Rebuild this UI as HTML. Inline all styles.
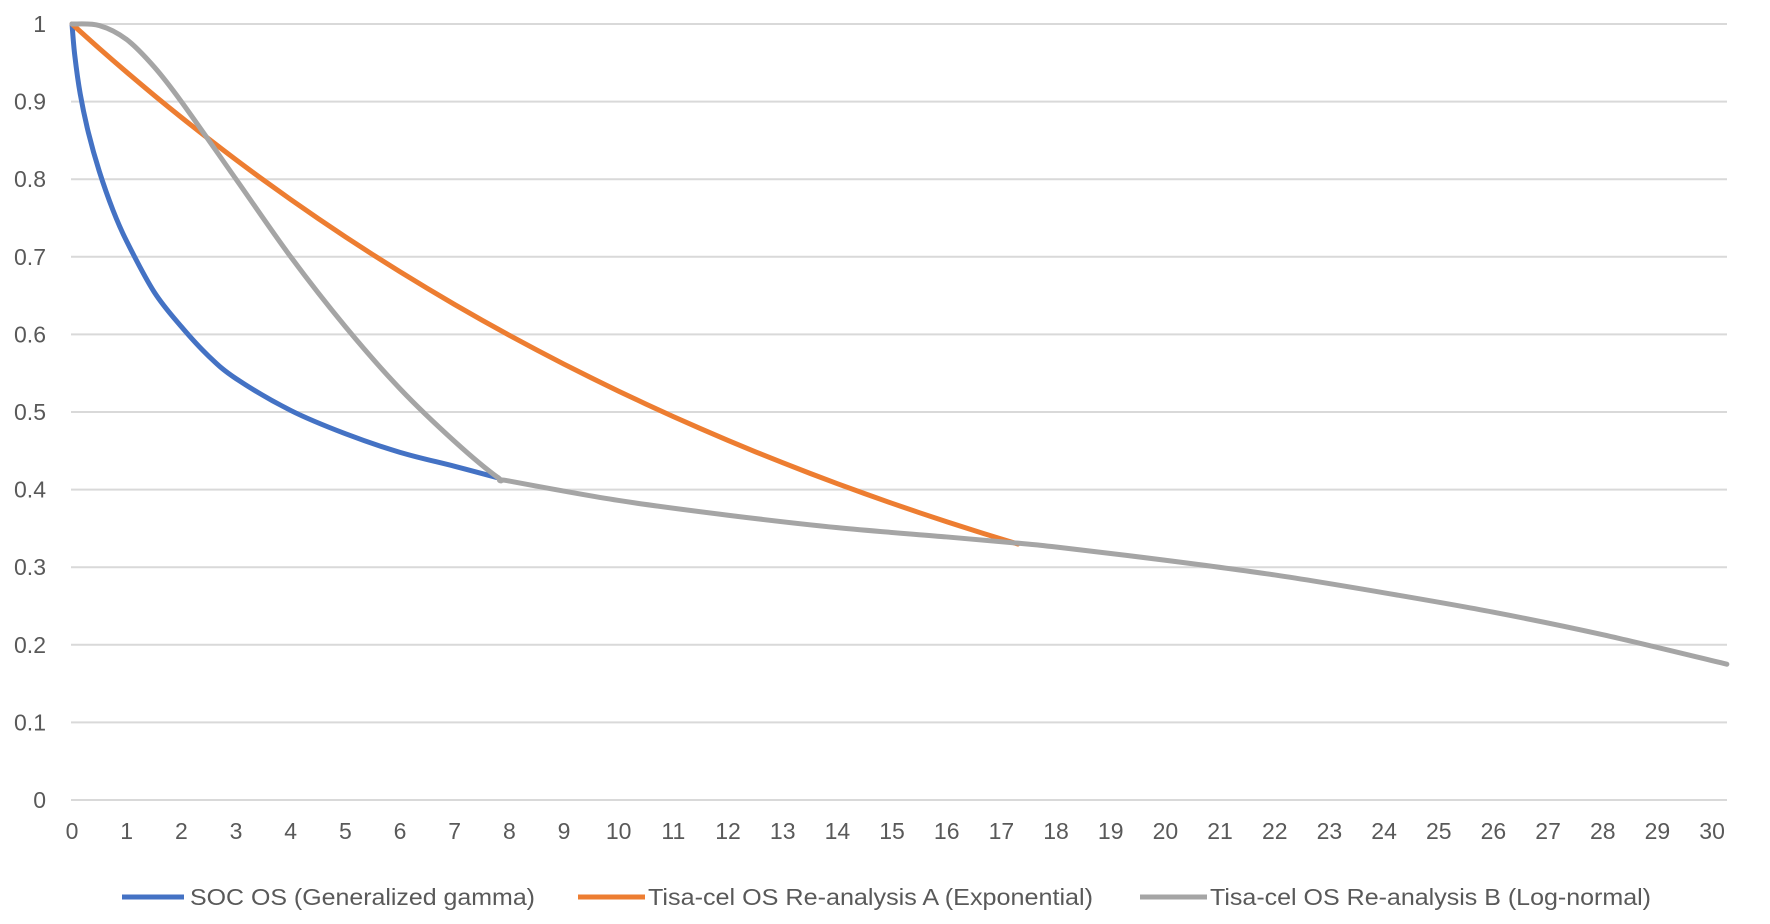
<!DOCTYPE html>
<html><head><meta charset="utf-8"><style>
html,body{margin:0;padding:0;background:#fff;}
svg{display:block;}
text{font-family:"Liberation Sans",sans-serif;fill:#595959;}
</style></head><body>
<svg id="s" width="1770" height="924" viewBox="0 0 1770 924" xmlns="http://www.w3.org/2000/svg">
<g id="grid" stroke="#d9d9d9" stroke-width="2"></g>
<g id="ylab" font-size="23" text-anchor="end"></g>
<g id="xlab" font-size="23" text-anchor="middle"></g>
<g id="series" fill="none" stroke-width="4.5" stroke-linejoin="round" stroke-linecap="round"></g>
<g font-size="23">
<line x1="122" y1="897" x2="184" y2="897" stroke="#4472C4" stroke-width="5"/>
<text x="190" y="905" textLength="345" lengthAdjust="spacingAndGlyphs">SOC OS (Generalized gamma)</text>
<line x1="578" y1="897" x2="645" y2="897" stroke="#ED7D31" stroke-width="5"/>
<text x="648" y="905" textLength="445" lengthAdjust="spacingAndGlyphs">Tisa-cel OS Re-analysis A (Exponential)</text>
<line x1="1140" y1="897" x2="1207" y2="897" stroke="#A5A5A5" stroke-width="5"/>
<text x="1210" y="905" textLength="441" lengthAdjust="spacingAndGlyphs">Tisa-cel OS Re-analysis B (Log-normal)</text>
</g>
</svg>
<script>
var NS="http://www.w3.org/2000/svg";
function X(t){return 72+t*54.67;}
function Y(v){return 800-v*776;}
function el(n,a,p,txt){var e=document.createElementNS(NS,n);for(var k in a)e.setAttribute(k,a[k]);if(txt!==undefined)e.textContent=txt;document.getElementById(p).appendChild(e);}
for(var i=0;i<=10;i++){var y=Y(i/10);el("line",{x1:71,x2:1727,y1:y,y2:y},"grid");
el("text",{x:46,y:y+8},"ylab",i==10?"1":i==0?"0":(i/10).toFixed(1));}
for(var t=0;t<=30;t++)el("text",{x:X(t),y:839},"xlab",""+t);
function path(pts){var p=pts.map(function(q){return [X(q[0]),Y(q[1])];});
var d="M"+p[0][0]+","+p[0][1];
for(var i=0;i<p.length-1;i++){var p0=p[i-1]||p[i],p1=p[i],p2=p[i+1],p3=p[i+2]||p2;
d+=" C"+(p1[0]+(p2[0]-p0[0])/6)+","+(p1[1]+(p2[1]-p0[1])/6)+" "+(p2[0]-(p3[0]-p1[0])/6)+","+(p2[1]-(p3[1]-p1[1])/6)+" "+p2[0]+","+p2[1];}
return d;}
var tail=[[7.8,0.415],[8,0.411],[10,0.386],[12,0.367],[14,0.351],[16,0.339],[17.3,0.331],[18,0.326],[20,0.309],[22,0.29],[24,0.267],[26,0.242],[28,0.213],[30.27,0.175]];
var blue=[[0,1],[0.05,0.96],[0.15,0.91],[0.3,0.86],[0.5,0.81],[0.75,0.76],[1,0.72],[1.5,0.655],[2,0.61],[2.5,0.572],[3,0.543],[4,0.502],[5,0.472],[6,0.448],[7,0.43],[7.8,0.415]];
var orange=[];for(var t=0;t<=17.3;t+=0.5)orange.push([t,Math.exp(-0.0641*t)]);orange.push([17.3,Math.exp(-0.0641*17.3)]);
var gray=[[0,1],[0.5,0.998],[1,0.98],[1.5,0.945],[2,0.9],[3,0.8],[4,0.7],[5,0.61],[6,0.53],[7,0.462]].concat(tail);
el("path",{d:path(blue),stroke:"#4472C4","stroke-width":5},"series");
el("path",{d:path(orange),stroke:"#ED7D31","stroke-width":5},"series");
el("path",{d:path(gray),stroke:"#A5A5A5","stroke-width":5},"series");
</script>
</body></html>
